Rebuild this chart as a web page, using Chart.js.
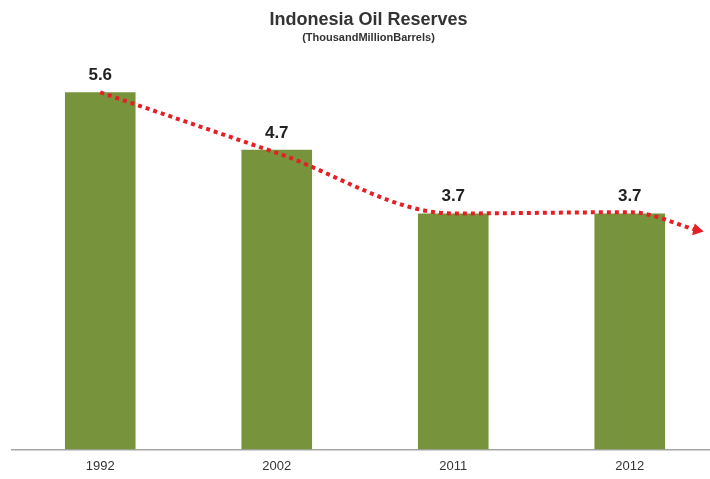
<!DOCTYPE html>
<html>
<head>
<meta charset="utf-8">
<script src="https://cdn.jsdelivr.net/npm/chart.js@4.4.0/dist/chart.umd.min.js"></script>
<style>
  html, body { margin: 0; padding: 0; background: #fff; overflow: hidden; }
  #wrap { width: 710px; height: 479px; overflow: hidden; }
  #oilChart { display: block; }
</style>
</head>
<body>
<div id="wrap"><canvas id="oilChart" width="725" height="479"></canvas></div>
<script>
const years = ['1992', '2002', '2011', '2012'];
const reserves = [5.6, 4.7, 3.7, 3.7];
// dotted trend arrow, x in category units (0 = first bar)
const trendX = [0, 1, 2, 3, 3.38];
const trendY = [5.6, 4.65, 3.7, 3.72, 3.44];

const green = '#77933c';
const red = '#e41f26';

// values written above the bars
const barLabels = {
  id: 'barLabels',
  afterDatasetsDraw(chart) {
    const ctx = chart.ctx;
    chart.data.datasets.forEach((ds, i) => {
      if (ds.type !== 'bar') return;
      const meta = chart.getDatasetMeta(i);
      ctx.save();
      ctx.font = 'bold 17px "Liberation Sans", Arial, sans-serif';
      ctx.fillStyle = '#222';
      ctx.textAlign = 'center';
      ctx.textBaseline = 'alphabetic';
      meta.data.forEach((bar, j) => {
        ctx.fillText(ds.data[j].toFixed(1), bar.x, bar.y - 12);
      });
      ctx.restore();
    });
  }
};

const ctx = document.getElementById('oilChart').getContext('2d');
const oilChart = new Chart(ctx, {
  data: {
    labels: years,
    datasets: [{
      type: 'line',
      label: 'Trend',
      xAxisID: 'x2',
      data: trendX.map((x, i) => ({ x: x, y: trendY[i] })),
      borderColor: red,
      borderWidth: 4,
      borderDash: [4, 4],
      cubicInterpolationMode: 'monotone',
      pointRadius: [0, 0, 0, 0, 7],
      pointStyle: 'triangle',
      pointRotation: [0, 0, 0, 0, 102],
      pointBackgroundColor: red,
      pointBorderWidth: 0,
      clip: false,
      order: 0
    }, {
      type: 'bar',
      label: 'Reserves',
      xAxisID: 'x',
      data: reserves,
      backgroundColor: green,
      grouped: false,
      barPercentage: 0.4,
      categoryPercentage: 1,
      order: 1
    }]
  },
  options: {
    responsive: false,
    animation: false,
    layout: { padding: { left: 12, right: 0, top: 0, bottom: -4 } },
    plugins: {
      legend: { display: false },
      tooltip: { enabled: false },
      title: {
        display: true,
        text: 'Indonesia Oil Reserves',
        color: '#333',
        font: { family: '"Liberation Sans", Arial, sans-serif', size: 18, weight: 'bold' },
        padding: { top: 9, bottom: 1 }
      },
      subtitle: {
        display: true,
        text: '(ThousandMillionBarrels)',
        color: '#333',
        font: { family: '"Liberation Sans", Arial, sans-serif', size: 11, weight: 'bold' },
        padding: { top: 0, bottom: 22 }
      }
    },
    scales: {
      x: {
        type: 'category',
        grid: { display: false, drawTicks: false },
        border: { display: true, color: '#a6a6a6', width: 1.5 },
        ticks: {
          color: '#333',
          padding: 9,
          font: { family: '"Liberation Sans", Arial, sans-serif', size: 13 }
        }
      },
      x2: {
        type: 'linear',
        display: false,
        min: -0.5,
        max: 3.5,
        offset: false
      },
      y: {
        display: false,
        min: 0,
        max: 6
      }
    }
  },
  plugins: [barLabels]
});
</script>
</body>
</html>
